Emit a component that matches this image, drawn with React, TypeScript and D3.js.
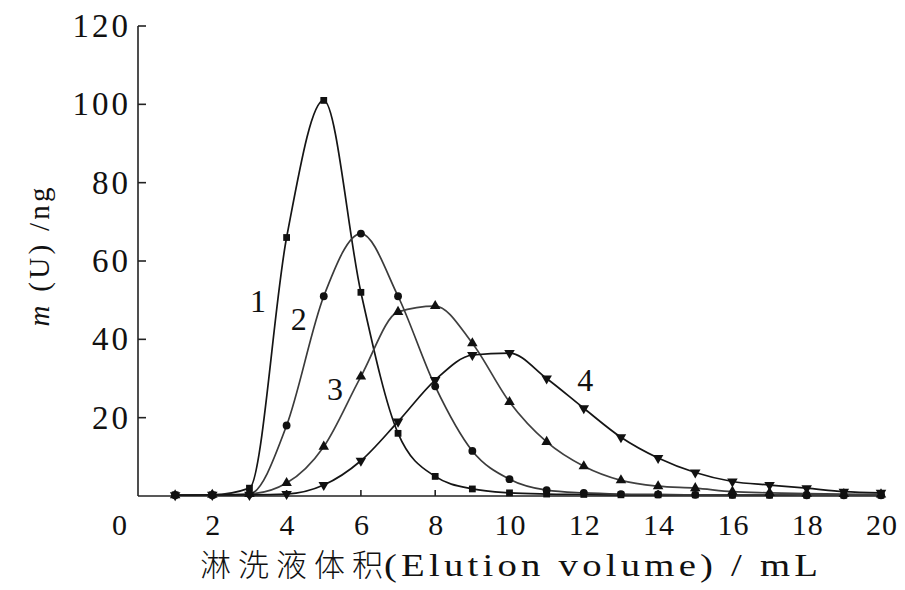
import { useEffect, useRef } from "react";
import * as d3 from "d3";

// elution volume (mL) at each sampled point
const volumes = [1, 2, 3, 4, 5, 6, 7, 8, 9, 10, 11, 12, 13, 14, 15, 16, 17, 18, 19, 20];

// m(U) / ng for the four curves
const curve1 = [0.3, 0.3, 2, 66, 101, 52, 16, 5, 1.8, 0.8, 0.5, 0.4, 0.3, 0.3, 0.3, 0.2, 0.2, 0.2, 0.2, 0.2];
const curve2 = [0.2, 0.2, 0.5, 18, 51, 67, 51, 28, 11.5, 4.3, 1.5, 0.8, 0.5, 0.4, 0.3, 0.3, 0.3, 0.2, 0.2, 0.2];
const curve3 = [0.2, 0.3, 0.5, 3.3, 12.6, 30.5, 47, 48.5, 39, 24, 13.8, 7.6, 4, 2.5, 2, 1.1, 0.8, 0.6, 0.5, 0.4];
const curve4 = [0.2, 0.3, 0.3, 0.5, 2.8, 9, 19, 29.6, 36, 36.5, 30, 22.4, 15, 9.7, 6, 3.7, 2.8, 2, 1.1, 0.8];

const seriesNames = ["1", "2", "3", "4"];
// where each curve's number label sits, in data units
const labelX = [3.23, 4.33, 5.3, 12.04];
const labelY = [49.9, 45.3, 27.3, 29.6];

const xTicks = [0, 2, 4, 6, 8, 10, 12, 14, 16, 18, 20];
const yTicks = [20, 40, 60, 80, 100, 120];

export default function App() {
  const ref = useRef<SVGSVGElement>(null);

  useEffect(() => {
    const width = 905;
    const height = 590;
    const svg = d3.select(ref.current);
    svg.selectAll("*").remove();

    const x = d3.scaleLinear().domain([0, 20]).range([138, 881]);
    const y = d3.scaleLinear().domain([0, 120]).range([496, 26]);

    const serif = "'Liberation Serif', 'DejaVu Serif', serif";

    // axes (only left + bottom, ticks pointing inward)
    const axes = svg.append("g").attr("stroke", "#222").attr("stroke-width", 1.6);
    axes.append("line").attr("x1", x(0)).attr("x2", x(0)).attr("y1", y(120)).attr("y2", y(0));
    axes.append("line").attr("x1", x(0)).attr("x2", x(20)).attr("y1", y(0)).attr("y2", y(0));
    axes
      .selectAll("line.yt")
      .data(yTicks)
      .enter()
      .append("line")
      .attr("class", "yt")
      .attr("x1", x(0))
      .attr("x2", x(0) + 8)
      .attr("y1", (d) => y(d))
      .attr("y2", (d) => y(d));
    axes
      .selectAll("line.xt")
      .data(xTicks.filter((d) => d > 0 && d < 20))
      .enter()
      .append("line")
      .attr("class", "xt")
      .attr("x1", (d) => x(d))
      .attr("x2", (d) => x(d))
      .attr("y1", y(0))
      .attr("y2", y(0) - 6);

    // y tick labels
    svg
      .selectAll("text.yl")
      .data(yTicks)
      .enter()
      .append("text")
      .attr("class", "yl")
      .attr("x", 131)
      .attr("y", (d) => y(d) + 11)
      .attr("text-anchor", "end")
      .style("font-family", serif)
      .style("font-size", "33px")
      .style("letter-spacing", "3px")
      .style("fill", "#111")
      .text((d) => d);

    // x tick labels
    svg
      .selectAll("text.xl")
      .data(xTicks)
      .enter()
      .append("text")
      .attr("class", "xl")
      .attr("x", (d) => (d === 0 ? 120 : x(d) + 1))
      .attr("y", 535)
      .attr("text-anchor", "middle")
      .style("font-family", serif)
      .style("font-size", "30px")
      .style("letter-spacing", "1px")
      .style("fill", "#111")
      .text((d) => d);

    // x axis title
    svg
      .append("text")
      .attr("x", 200)
      .attr("y", 576)
      .attr("textLength", 183)
      .attr("lengthAdjust", "spacing")
      .style("font-family", "'Noto Sans CJK SC', sans-serif")
      .style("font-size", "31px")
      .style("font-weight", 300)
      .style("fill", "#111")
      .text("淋洗液体积");
    svg
      .append("g")
      .attr("transform", "translate(384,576) scale(1.25,1)")
      .append("text")
      .attr("x", 0)
      .attr("y", 0)
      .attr("textLength", 434 / 1.25)
      .attr("lengthAdjust", "spacing")
      .style("font-family", serif)
      .style("font-size", "31px")
      .style("fill", "#111")
      .text("(Elution volume) / mL");

    // y axis title
    const yTitle = svg
      .append("text")
      .attr("transform", "translate(49,257) rotate(-90)")
      .attr("text-anchor", "middle")
      .attr("textLength", 139)
      .attr("lengthAdjust", "spacing")
      .style("font-family", serif)
      .style("font-size", "29px")
      .style("fill", "#111");
    yTitle.append("tspan").style("font-style", "italic").text("m");
    yTitle.append("tspan").text(" (U) /ng");

    // curves
    const allSeries = [curve1, curve2, curve3, curve4];
    const strokes = ["#151515", "#3a3a3a", "#404040", "#151515"];
    const symbols = [d3.symbolSquare, d3.symbolCircle, d3.symbolTriangle, d3.symbolTriangle];
    const symSizes = [46, 48, 48, 48];

    const line = d3
      .line<number>()
      .x((_, i) => x(volumes[i]))
      .y((d) => y(d))
      .curve(d3.curveMonotoneX);

    allSeries.forEach((vals, si) => {
      svg
        .append("path")
        .attr("d", line(vals))
        .attr("fill", "none")
        .attr("stroke", strokes[si])
        .attr("stroke-width", 1.7);

      const sym = d3.symbol().type(symbols[si]).size(symSizes[si]);
      svg
        .selectAll(`path.m${si}`)
        .data(vals)
        .enter()
        .append("path")
        .attr("class", `m${si}`)
        .attr("d", sym)
        .attr(
          "transform",
          (d, i) =>
            `translate(${x(volumes[i])},${y(d)})` + (si === 3 ? " rotate(180)" : "")
        )
        .attr("fill", "#111");
    });

    // curve number labels
    svg
      .selectAll("text.cl")
      .data(seriesNames)
      .enter()
      .append("text")
      .attr("class", "cl")
      .attr("x", (_, i) => x(labelX[i]))
      .attr("y", (_, i) => y(labelY[i]) + 11)
      .attr("text-anchor", "middle")
      .style("font-family", serif)
      .style("font-size", "32px")
      .style("fill", "#111")
      .text((d) => d);

    svg.attr("width", width).attr("height", height);
  }, []);

  return (
    <svg
      ref={ref}
      width={905}
      height={590}
      style={{ position: "absolute", left: 0, top: 0, background: "#fff" }}
    />
  );
}
